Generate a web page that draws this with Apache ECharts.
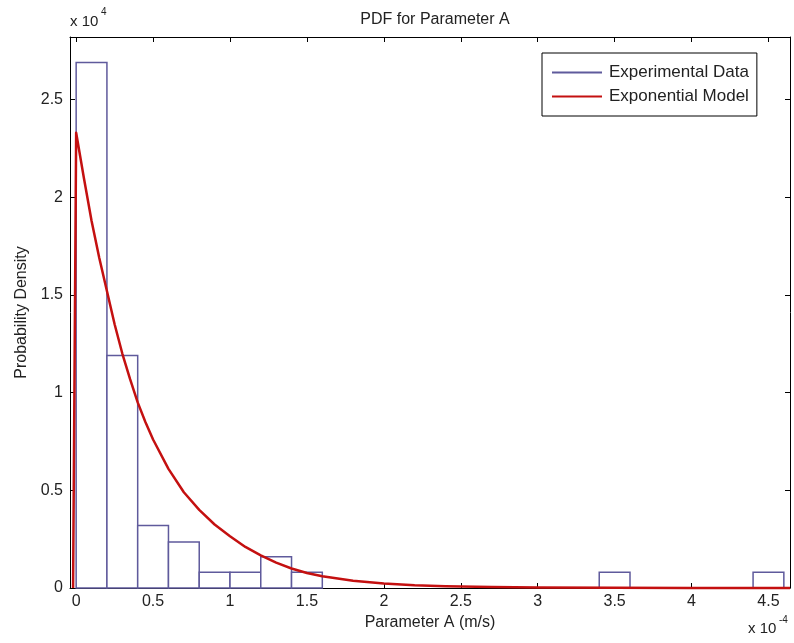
<!DOCTYPE html>
<html>
<head>
<meta charset="utf-8">
<title>PDF for Parameter A</title>
<script src="https://cdn.jsdelivr.net/npm/echarts@6/dist/echarts.min.js"></script>
<style>
  html, body { margin: 0; padding: 0; background: #fff; }
  #chart { width: 794px; height: 643px; }
</style>
</head>
<body>
<div id="chart"></div>
<script>
// x in units of 1e-4 m/s, density in units of 1e4
const binEdges = [0, 0.2, 0.4, 0.6, 0.8, 1.0, 1.2, 1.4, 1.6, 1.8, 2.0, 2.2,
  2.4, 2.6, 2.8, 3.0, 3.2, 3.4, 3.6, 3.8, 4.0, 4.2, 4.4, 4.6]
const binDensity = [2.69, 1.19, 0.32, 0.235, 0.08, 0.08, 0.16, 0.08, 0, 0, 0,
  0, 0, 0, 0, 0, 0, 0.08, 0, 0, 0, 0, 0.08]

// exponential model
const modelX = [-0.02, 0, 0.05, 0.1, 0.15, 0.2, 0.25, 0.3, 0.35, 0.4, 0.45, 0.5,
  0.6, 0.7, 0.8, 0.9, 1.0, 1.1, 1.2, 1.3, 1.4, 1.5, 1.6, 1.8, 2.0, 2.2, 2.4,
  2.7, 3.0, 3.5, 4.0, 4.64]
const modelY = [0, 2.33, 2.1, 1.88, 1.69, 1.52, 1.35, 1.2, 1.07, 0.95, 0.85,
  0.76, 0.61, 0.49, 0.40, 0.325, 0.265, 0.21, 0.167, 0.13, 0.1, 0.077, 0.06,
  0.037, 0.023, 0.014, 0.009, 0.005, 0.002, 0.001, 0, 0]

const xTicks = [0, 0.5, 1, 1.5, 2, 2.5, 3, 3.5, 4, 4.5]
const yTicks = [0, 0.5, 1, 1.5, 2, 2.5]

const barColor = '#5f5a9c'
const curveColor = '#c41010'
const font = 'Liberation Sans, Arial, sans-serif'

const histData = binDensity.map((d, i) => [binEdges[i], binEdges[i + 1], d])
const modelData = modelX.map((x, i) => [x, modelY[i]])

const chart = echarts.init(document.getElementById('chart'))

const axisCommon = {
  type: 'value',
  splitLine: { show: false },
  axisLine: { show: true, onZero: false, lineStyle: { color: '#000', width: 1 } },
}

chart.setOption({
  animation: false,
  textStyle: { fontFamily: font },
  title: {
    text: 'PDF for Parameter A',
    left: 430,
    textAlign: 'center',
    top: 7,
    textStyle: { fontSize: 16, fontWeight: 'normal', color: '#222' },
  },
  grid: { left: 70, right: 4, top: 37, bottom: 55, outerBoundsMode: 'none' },
  legend: {
    orient: 'vertical',
    left: 542,
    top: 53,
    padding: [11, 8, 11, 10],
    itemWidth: 50,
    itemHeight: 2,
    itemGap: 7,
    borderColor: '#000',
    borderWidth: 1,
    backgroundColor: '#fff',
    textStyle: { fontSize: 17, color: '#222', padding: [0, 0, 0, 2] },
    data: [
      { name: 'Experimental Data', icon: 'rect', itemStyle: { color: barColor } },
      { name: 'Exponential Model', icon: 'rect', itemStyle: { color: curveColor } },
    ],
  },
  xAxis: [
    {
      ...axisCommon,
      min: -0.04,
      max: 4.64,
      name: 'Parameter A (m/s)',
      nameLocation: 'middle',
      nameGap: 27,
      nameTextStyle: { fontSize: 16, color: '#222' },
      axisTick: { inside: true, length: 5, customValues: xTicks, lineStyle: { color: '#000' } },
      axisLabel: { customValues: xTicks, fontSize: 16, color: '#222', margin: 6 },
    },
    {
      ...axisCommon,
      position: 'top',
      min: -0.04,
      max: 4.64,
      axisTick: { inside: true, length: 5, customValues: xTicks, lineStyle: { color: '#000' } },
      axisLabel: { show: false },
    },
  ],
  yAxis: [
    {
      ...axisCommon,
      min: 0,
      max: 2.82,
      name: 'Probability Density',
      nameLocation: 'middle',
      nameGap: 39,
      nameTextStyle: { fontSize: 16, color: '#222' },
      axisTick: { inside: true, length: 5, customValues: yTicks, lineStyle: { color: '#000' } },
      axisLabel: { customValues: yTicks, fontSize: 16, color: '#222', margin: 7 },
    },
    {
      ...axisCommon,
      position: 'right',
      min: 0,
      max: 2.82,
      axisTick: { inside: true, length: 5, customValues: yTicks, lineStyle: { color: '#000' } },
      axisLabel: { show: false },
    },
  ],
  series: [
    {
      name: 'Experimental Data',
      type: 'custom',
      data: histData,
      encode: { x: [0, 1], y: 2 },
      itemStyle: { color: barColor },
      z: 2,
      renderItem: (params, api) => {
        const h = api.value(2)
        if (!h) return null
        const p0 = api.coord([api.value(0), h])
        const p1 = api.coord([api.value(1), 0])
        return {
          type: 'rect',
          shape: { x: p0[0], y: p0[1], width: p1[0] - p0[0], height: p1[1] - p0[1] },
          style: { fill: '#fff', stroke: barColor, lineWidth: 1.5 },
        }
      },
    },
    {
      name: 'Exponential Model',
      type: 'line',
      data: modelData,
      showSymbol: false,
      smooth: false,
      clip: false,
      z: 3,
      itemStyle: { color: curveColor },
      lineStyle: { color: curveColor, width: 2.5, join: 'round' },
    },
  ],
  graphic: [
    { type: 'text', left: 70, top: 14, style: { text: 'x 10', fontSize: 15, fill: '#222', fontFamily: font } },
    { type: 'text', left: 101, top: 7, style: { text: '4', fontSize: 10, fill: '#222', fontFamily: font } },
    { type: 'text', left: 748, top: 621, style: { text: 'x 10', fontSize: 15, fill: '#222', fontFamily: font } },
    { type: 'text', left: 779, top: 615, style: { text: '-4', fontSize: 10, fill: '#222', fontFamily: font } },
  ],
})
</script>
</body>
</html>
